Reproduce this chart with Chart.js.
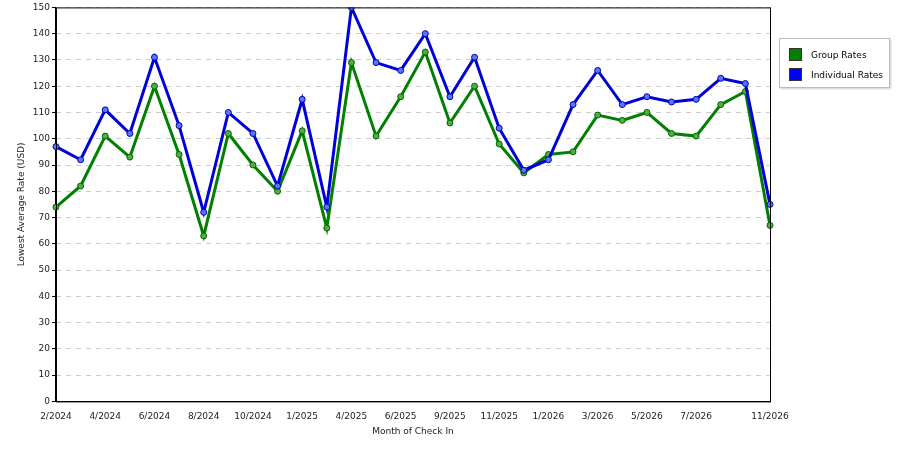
<!DOCTYPE html>
<html><head><meta charset="utf-8">
<script src="https://cdn.jsdelivr.net/npm/chart.js@4"></script>
<style>
body{margin:0;background:#fff;font-family:"DejaVu Sans",sans-serif;}
#wrap{position:relative;width:900px;height:450px;}
#legend{position:absolute;left:779px;top:38px;width:109px;height:48px;border:1px solid #bbb;box-shadow:1px 1px 2px #ccc;font-size:9px;background:#fff;}
.it{position:absolute;left:9px;display:flex;align-items:center;}
.sw{width:11px;height:11px;margin-right:9px;border:1px solid #333;}
</style></head><body>
<div id="wrap"><canvas id="c" width="900" height="450"></canvas>
<div id="legend">
<div class="it" style="top:9px"><span class="sw" style="background:#008000"></span>Group Rates</div>
<div class="it" style="top:29px"><span class="sw" style="background:#0000ff"></span>Individual Rates</div>
</div></div>
<script>
const months=["2/2024","3/2024","4/2024","5/2024","6/2024","7/2024","8/2024","9/2024","10/2024","12/2024","1/2025","3/2025","4/2025","5/2025","6/2025","8/2025","9/2025","10/2025","11/2025","12/2025","1/2026","2/2026","3/2026","4/2026","5/2026","6/2026","7/2026","8/2026","10/2026","11/2026"];
const shownTicks=["2/2024","4/2024","6/2024","8/2024","10/2024","1/2025","4/2025","6/2025","9/2025","11/2025","1/2026","3/2026","5/2026","7/2026","11/2026"];
const groupRates=[74,82,101,93,120,94,63,102,90,80,103,66,129,101,116,133,106,120,98,87,94,95,109,107,110,102,101,113,118,67];
const individualRates=[97,92,111,102,131,105,72,110,102,82,115,74,150,129,126,140,116,131,104,88,92,113,126,113,116,114,115,123,121,75];
Chart.defaults.font.family='"DejaVu Sans",sans-serif';
Chart.defaults.font.size=9;
Chart.defaults.color='#222';
new Chart(document.getElementById('c'),{type:'line',
data:{labels:months,datasets:[
{label:'Individual Rates',data:individualRates,borderColor:'#0000dd',backgroundColor:'#5577ff',pointBorderColor:'#0000aa',borderWidth:3,pointRadius:3,pointBorderWidth:1,tension:0},
{label:'Group Rates',data:groupRates,borderColor:'#008000',backgroundColor:'#55aa44',pointBorderColor:'#006600',borderWidth:3,pointRadius:3,pointBorderWidth:1,tension:0}]},
options:{responsive:false,animation:false,layout:{padding:{left:12,right:130,top:-3,bottom:9}},
plugins:{legend:{display:false},tooltip:{enabled:false}},
scales:{
x:{offset:false,grid:{display:false,drawTicks:true},border:{color:'#000'},
ticks:{autoSkip:false,maxRotation:0,padding:2,callback:function(v){const l=months[v];return shownTicks.includes(l)?l:'';}},
title:{display:true,text:'Month of Check In',padding:{top:2}}},
y:{min:0,max:150,border:{color:'#000',dash:[5,5]},grid:{color:'#ccc',tickColor:'#000',tickLength:4},
ticks:{stepSize:10,padding:2},
title:{display:true,text:'Lowest Average Rate (USD)'}}}},
plugins:[{id:'frame',afterDraw(ch){const a=ch.chartArea,c=ch.ctx;c.save();c.strokeStyle='#000';c.lineWidth=1;c.setLineDash([]);c.strokeRect(a.left+.5,a.top+.5,a.width,a.height);c.restore();}}]
});
</script></body></html>
